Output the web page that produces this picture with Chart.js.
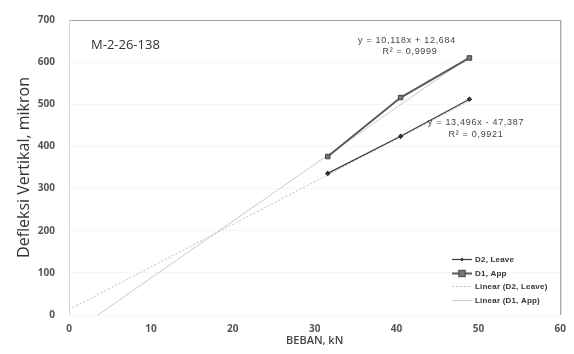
<!DOCTYPE html>
<html>
<head>
<meta charset="utf-8">
<script src="https://cdn.jsdelivr.net/npm/chart.js@4/dist/chart.umd.min.js"></script>
<style>
  html, body { margin: 0; padding: 0; background: #fff; }
  #wrap { width: 574px; height: 354px; position: relative; }
</style>
</head>
<body>
<div id="wrap"><canvas id="c" width="574" height="354"></canvas></div>
<script>
// ---- data ----
const loads = [31.6, 40.5, 48.9];            // BEBAN, kN
const d2Leave = [336, 424, 512];             // D2, Leave (mikron)
const d1App = [376, 516, 610];               // D1, App (mikron)
const trendNames = ['Linear (D2, Leave)', 'Linear (D1, App)'];
const trendSlopes = [10.118, 13.496];
const trendIntercepts = [12.684, -47.387];
const xTicks = [0, 10, 20, 30, 40, 50, 60];
const yTicks = [0, 100, 200, 300, 400, 500, 600, 700];
const specimenLabel = 'M-2-26-138';
const eqLabels = [
  ['y = 10,118x + 12,684', 'R² = 0,9999'],
  ['y = 13,496x - 47,387', 'R² = 0,9921']
];

function trendPoints(i) {
  const m = trendSlopes[i], b = trendIntercepts[i];
  const x0 = Math.max(0, -b / m);
  const x1 = loads[loads.length - 1];
  return [{x: x0, y: m * x0 + b}, {x: x1, y: m * x1 + b}];
}
const pts = (xs, ys) => xs.map((x, i) => ({x, y: ys[i]}));

const datasets = [
  { label: trendNames[0], data: trendPoints(0), showLine: true, borderColor: '#bdbdbd',
    borderWidth: 1, borderDash: [2, 2], pointRadius: 0, order: 3 },
  { label: trendNames[1], data: trendPoints(1), showLine: true, borderColor: '#cacaca',
    borderWidth: 1, pointRadius: 0, order: 4 },
  { label: 'D2, Leave', data: pts(loads, d2Leave), showLine: true, borderColor: '#3a3a3a',
    borderWidth: 1.2, pointStyle: 'rectRot', pointRadius: 2, backgroundColor: '#333',
    pointBorderColor: '#333', order: 1 },
  { label: 'D1, App', data: pts(loads, d1App), showLine: true, borderColor: '#5a5a5a',
    borderWidth: 2, pointStyle: 'rect', pointRadius: 3.2, backgroundColor: '#777',
    pointBorderColor: '#444', pointBorderWidth: 1, order: 2 }
];

const overlay = {
  id: 'overlay',
  afterDatasetsDraw(chart) {
    const ctx = chart.ctx;
    const a = chart.chartArea;
    ctx.save();
    // frame
    ctx.strokeStyle = '#a0a0a0'; ctx.lineWidth = 1;
    ctx.beginPath(); ctx.moveTo(a.left, a.top + 0.5); ctx.lineTo(a.right, a.top + 0.5); ctx.stroke();
    ctx.strokeStyle = '#8a8a8a';
    ctx.beginPath(); ctx.moveTo(a.right + 0.5, a.top); ctx.lineTo(a.right + 0.5, a.bottom); ctx.stroke();
    ctx.strokeStyle = '#d8d8d8';
    ctx.beginPath(); ctx.moveTo(a.left + 0.5, a.top); ctx.lineTo(a.left + 0.5, a.bottom); ctx.stroke();

    // specimen label
    ctx.fillStyle = '#333';
    ctx.font = '13px "Open Sans", "Liberation Sans", sans-serif';
    ctx.textAlign = 'left'; ctx.textBaseline = 'middle';
    ctx.fillText(specimenLabel, 91, 45);

    // equations
    ctx.fillStyle = '#444';
    ctx.font = '9px "Liberation Sans", Arial, sans-serif';
    ctx.letterSpacing = '0.7px';
    ctx.textAlign = 'center';
    ctx.fillText(eqLabels[0][0], 407, 41);
    ctx.fillText(eqLabels[0][1], 410, 52);
    ctx.fillText(eqLabels[1][0], 476, 123);
    ctx.fillText(eqLabels[1][1], 476, 135);

    // legend
    const order = [2, 3, 0, 1];
    const rowsY = [259, 273, 286, 300];
    ctx.font = 'bold 8px "Liberation Sans", Arial, sans-serif';
    ctx.letterSpacing = '0.2px';
    ctx.textAlign = 'left';
    order.forEach((di, k) => {
      const ds = chart.data.datasets[di];
      const y = rowsY[k] + 0.5;
      ctx.strokeStyle = ds.borderColor;
      ctx.lineWidth = ds.borderWidth;
      ctx.setLineDash(ds.borderDash || []);
      ctx.beginPath(); ctx.moveTo(452, y); ctx.lineTo(472, y); ctx.stroke();
      ctx.setLineDash([]);
      if (ds.pointRadius > 0) {
        ctx.fillStyle = ds.backgroundColor;
        ctx.strokeStyle = ds.pointBorderColor;
        ctx.lineWidth = 1;
        const r = ds.pointRadius;
        if (ds.pointStyle === 'rect') {
          ctx.fillRect(462 - r, y - r, 2 * r, 2 * r);
          ctx.strokeRect(462 - r, y - r, 2 * r, 2 * r);
        } else {
          ctx.beginPath(); ctx.moveTo(462, y - r); ctx.lineTo(462 + r, y);
          ctx.lineTo(462, y + r); ctx.lineTo(462 - r, y); ctx.closePath(); ctx.fill();
        }
      }
      ctx.fillStyle = '#333';
      ctx.fillText(ds.label, 475, y);
    });
    ctx.restore();
  }
};

const tickFont = { family: '"Open Sans", "Liberation Sans", sans-serif', size: 10, weight: 'bold' };

new Chart(document.getElementById('c'), {
  type: 'scatter',
  data: { datasets },
  options: {
    responsive: false,
    animation: false,
    devicePixelRatio: 1,
    layout: { padding: { left: 0, right: 8, top: 13, bottom: 0 } },
    plugins: { legend: { display: false }, tooltip: { enabled: false } },
    scales: {
      x: {
        type: 'linear', min: 0, max: 60,
        afterBuildTicks: s => { s.ticks = xTicks.map(v => ({value: v})); },
        afterFit: s => { s.height = 39; },
        grid: { display: false, drawTicks: false },
        border: { display: false },
        ticks: { padding: 8, color: '#555', font: tickFont },
        title: { display: true, text: 'BEBAN, kN', color: '#444', padding: { top: 0, bottom: 7 },
                 font: { family: '"Open Sans", "Liberation Sans", sans-serif', size: 11, weight: '600' } }
      },
      y: {
        type: 'linear', min: 0, max: 700,
        afterBuildTicks: s => { s.ticks = yTicks.map(v => ({value: v})); },
        afterFit: s => { s.width = 69; },
        grid: { color: '#f5f5f5', drawTicks: false },
        border: { display: false },
        ticks: { padding: 14, color: '#555', font: tickFont },
        title: { display: true, text: 'Defleksi Vertikal, mikron', color: '#333', padding: { top: 15, bottom: 0 },
                 font: { family: '"Open Sans", "Liberation Sans", sans-serif', size: 16 } }
      }
    }
  },
  plugins: [overlay]
});
</script>
</body>
</html>
